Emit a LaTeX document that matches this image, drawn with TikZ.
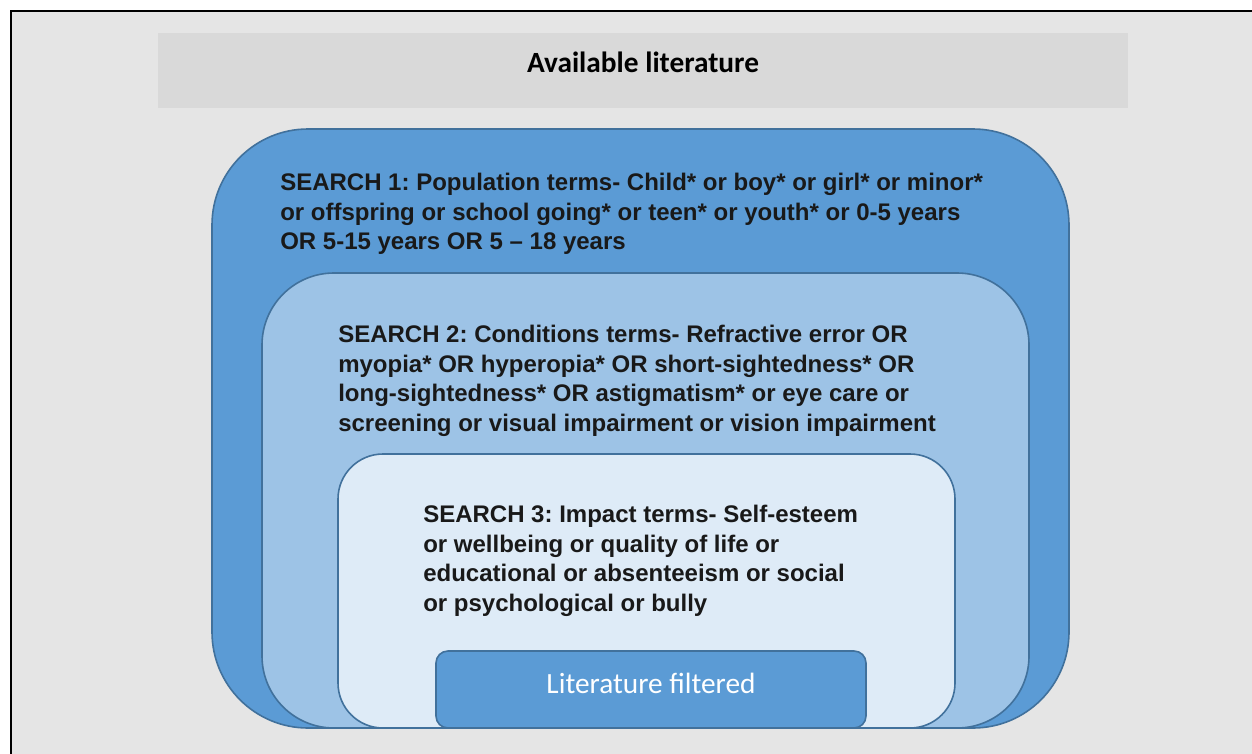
\documentclass[tikz,border=0pt]{standalone}
\usepackage{fontspec}
\setmainfont{Liberation Sans}
\newfontfamily\carlito{Carlito}
\usetikzlibrary{positioning}
\definecolor{framegray}{HTML}{E5E5E5}
\definecolor{titlegray}{HTML}{D9D9D9}
\definecolor{searchdark}{HTML}{5B9BD5}
\definecolor{searchmid}{HTML}{9DC3E6}
\definecolor{searchlight}{HTML}{DEEBF7}
\definecolor{searchedge}{HTML}{41719C}
\frenchspacing

\begin{document}
\begin{tikzpicture}[
  x=0.75pt, y=-0.75pt,
  searchbox/.style={rectangle, draw=searchedge, line width=1.2pt, anchor=north west, inner sep=0pt, outer sep=0pt},
  searchtext/.style={anchor=north west, inner sep=0pt, align=left, font=\bfseries\fontsize{18}{22.1}\selectfont, text=black!90},
  titlebox/.style={rectangle, fill=titlegray, anchor=north west, inner sep=0pt, outer sep=0pt, minimum width=727.5pt, minimum height=56.25pt, font=\carlito\bfseries\fontsize{22}{26}\selectfont}
]
\useasboundingbox (0,0) rectangle (1252,753);
\clip (0,0) rectangle (1252,753);
% page frame, open on the right and at the bottom
\fill[framegray] (10,11) rectangle (1270,770);
\draw[black, line width=1.5pt] (11,770) -- (11,11) -- (1270,11);

\node[titlebox, text depth=12pt] (avail) at (158,33) {Available literature};

% nested searches, drawn from the outside in
\node[searchbox, fill=searchdark, rounded corners=72pt, minimum width=642.75pt, minimum height=449.25pt] (search1) at (212,129) {};
\node[searchbox, fill=searchmid, rounded corners=54pt, minimum width=575.25pt, minimum height=341.25pt] (search2) at (262,273) {};
\node[searchbox, fill=searchlight, rounded corners=33.75pt, minimum width=462.75pt, minimum height=205.5pt] (search3) at (338,454) {};
\node[searchbox, fill=searchdark, rounded corners=9pt, anchor=center, minimum width=322.5pt, minimum height=57.75pt, text depth=9pt, text=white, font=\carlito\fontsize{22}{26}\selectfont] (filtered) at (651,689.5) {Literature filtered};

\node[searchtext, below right=33pt and 51pt of search1.north west] (terms1) {SEARCH 1: Population terms- Child* or boy* or girl* or minor*\\or offspring or school going* or teen* or youth* or 0-5 years\\OR 5-15 years OR 5 -- 18 years};
\node[searchtext, below right=39pt and 57pt of search2.north west] (terms2) {SEARCH 2: Conditions terms- Refractive error OR\\myopia* OR hyperopia* OR short-sightedness* OR\\long-sightedness* OR astigmatism* or eye care or\\screening or visual impairment or vision impairment};
\node[searchtext, below right=38.25pt and 63.75pt of search3.north west] (terms3) {SEARCH 3: Impact terms- Self-esteem\\or wellbeing or quality of life or\\educational or absenteeism or social\\or psychological or bully};
\end{tikzpicture}
\end{document}
